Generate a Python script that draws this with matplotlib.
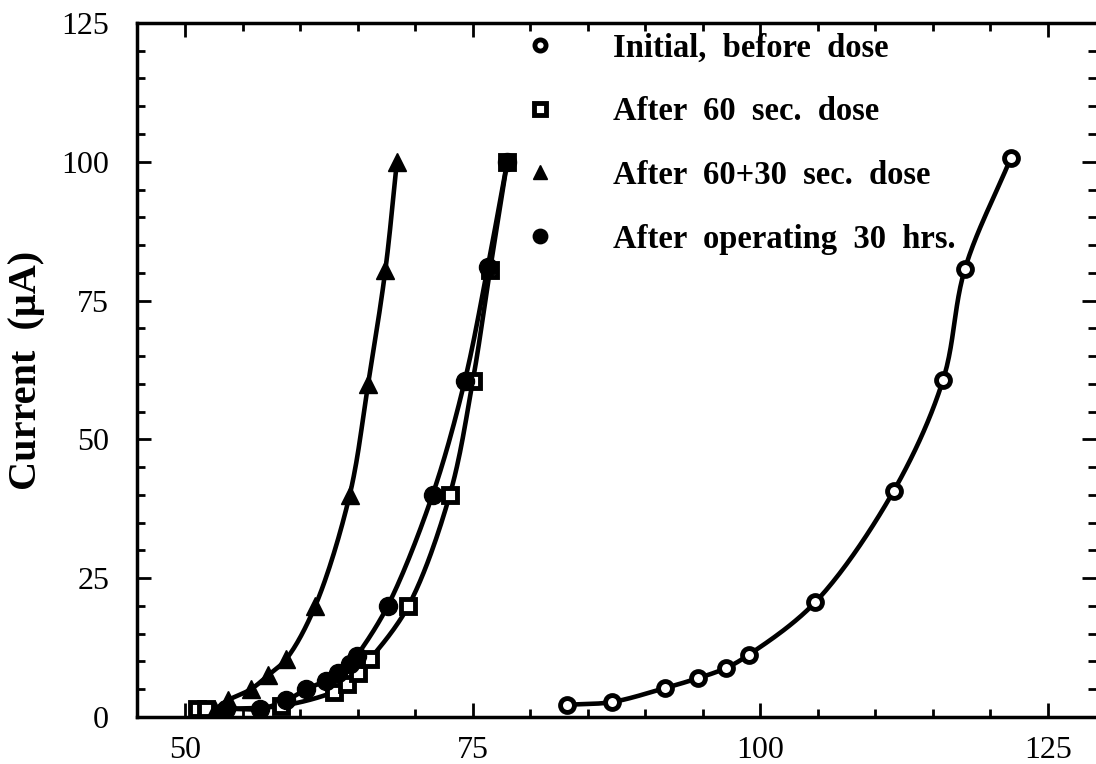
import numpy as np
import matplotlib
matplotlib.use("Agg")
import matplotlib.pyplot as plt
from matplotlib.lines import Line2D
from matplotlib.ticker import MultipleLocator

# voltage (V) vs current (uA)
init_x = [83.2, 87.1, 91.7, 94.6, 97.0, 99.0, 104.8, 111.6, 115.9, 117.8, 121.8]
init_y = [2.2, 2.7, 5.2, 7.0, 8.8, 11.2, 20.7, 40.7, 60.7, 80.7, 100.7]

dose60_x = [51.0, 51.8, 58.3, 62.9, 64.1, 65.0, 66.1, 69.4, 73.0, 75.0, 76.5, 78.0]
dose60_y = [1.5, 1.5, 2.0, 4.5, 6.0, 8.0, 10.5, 20.0, 40.0, 60.5, 80.5, 100.0]

dose90_x = [52.6, 53.7, 55.7, 57.2, 58.8, 61.3, 64.3, 65.9, 67.4, 68.4]
dose90_y = [1.3, 3.0, 5.0, 7.5, 10.5, 20.0, 40.0, 60.0, 80.5, 100.0]

hrs30_x = [53.5, 56.5, 58.8, 60.5, 62.2, 63.3, 64.3, 64.9, 67.6, 71.5, 74.3, 76.3, 78.0]
hrs30_y = [1.5, 1.5, 3.0, 5.0, 6.5, 8.0, 9.5, 11.0, 20.0, 40.0, 60.5, 81.0, 100.0]

labels = ["Initial,  before  dose", "After  60  sec.  dose",
          "After  60+30  sec.  dose", "After  operating  30  hrs."]

XLIM = (45.8, 129.2)
YLIM = (0, 125)


def smooth(x, y, n=25):
    # centripetal catmull-rom through the points, in roughly pixel-scaled space
    sx, sy = 11.5, 5.55
    P = np.column_stack([np.asarray(x) * sx, np.asarray(y) * sy])
    P = np.vstack([2 * P[0] - P[1], P, 2 * P[-1] - P[-2]])
    out = []
    for i in range(1, len(P) - 2):
        p0, p1, p2, p3 = P[i - 1], P[i], P[i + 1], P[i + 2]
        t0 = 0.0
        t1 = t0 + np.linalg.norm(p1 - p0) ** 0.5
        t2 = t1 + np.linalg.norm(p2 - p1) ** 0.5
        t3 = t2 + np.linalg.norm(p3 - p2) ** 0.5
        t = np.linspace(t1, t2, n)[:, None]
        a1 = (t1 - t) / (t1 - t0) * p0 + (t - t0) / (t1 - t0) * p1
        a2 = (t2 - t) / (t2 - t1) * p1 + (t - t1) / (t2 - t1) * p2
        a3 = (t3 - t) / (t3 - t2) * p2 + (t - t2) / (t3 - t2) * p3
        b1 = (t2 - t) / (t2 - t0) * a1 + (t - t0) / (t2 - t0) * a2
        b2 = (t3 - t) / (t3 - t1) * a2 + (t - t1) / (t3 - t1) * a3
        c = (t2 - t) / (t2 - t1) * b1 + (t - t1) / (t2 - t1) * b2
        out.append(c)
    c = np.vstack(out)
    return c[:, 0] / sx, c[:, 1] / sy


plt.rcParams['font.family'] = ['Liberation Serif', 'DejaVu Serif']

fig = plt.figure(figsize=(10.96, 7.64), dpi=100)
ax = fig.add_axes([0.125, 0.0615, 0.875, 0.9085])

series = [
    (init_x, init_y, dict(marker='o', mfc='white', mec='black', mew=3.5, ms=10)),
    (dose60_x, dose60_y, dict(marker='s', mfc='white', mec='black', mew=3.5, ms=10)),
    (dose90_x, dose90_y, dict(marker='^', mfc='black', mec='black', mew=1, ms=13)),
    (hrs30_x, hrs30_y, dict(marker='o', mfc='black', mec='black', mew=1, ms=13)),
]

handles = []
for (xs, ys, mk), lab in zip(series, labels):
    sx_, sy_ = smooth(xs, ys)
    ax.plot(sx_, sy_, color='black', lw=3.3, zorder=2)
    ax.plot(xs, ys, ls='none', zorder=3, **mk)
    h = dict(mk)
    h['ms'] = h['ms'] * 0.8
    handles.append(Line2D([], [], ls='none', **h))

ax.set_xlim(*XLIM)
ax.set_ylim(*YLIM)
ax.xaxis.set_major_locator(MultipleLocator(25))
ax.xaxis.set_minor_locator(MultipleLocator(5))
ax.yaxis.set_major_locator(MultipleLocator(25))
ax.yaxis.set_minor_locator(MultipleLocator(5))
ax.tick_params(which='both', direction='in', top=True, right=True, width=2)
ax.tick_params(which='major', length=10, labelsize=23)
ax.tick_params(which='minor', length=6)
ax.tick_params(axis='y', pad=20)
ax.tick_params(axis='x', pad=14)
for s in ['left', 'bottom', 'top']:
    ax.spines[s].set_linewidth(2.5)
ax.spines['right'].set_visible(False)

ax.set_ylabel('Current  (\u03bcA)', fontsize=29, fontweight='bold', labelpad=12)

ax.legend(handles, labels, loc='upper left', bbox_to_anchor=(0.4035, 0.986),
          frameon=False, borderaxespad=0, borderpad=0, handlelength=1,
          handletextpad=1.72, labelspacing=1.0,
          prop={'family': 'Liberation Serif', 'weight': 'bold', 'size': 23.5})

fig.savefig('out.png', dpi=100, facecolor='white')
